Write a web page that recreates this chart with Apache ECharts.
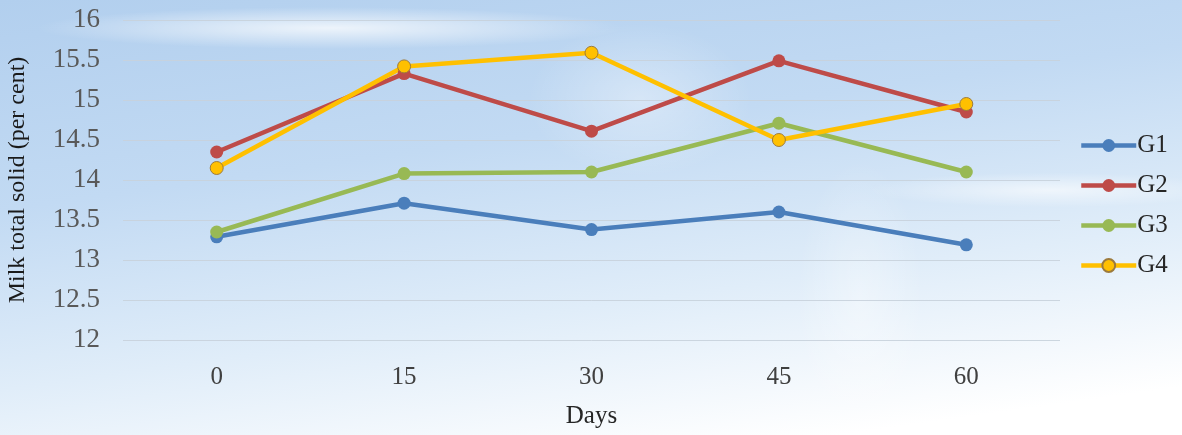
<!DOCTYPE html>
<html><head><meta charset="utf-8">
<script src="https://cdn.jsdelivr.net/npm/echarts@6/dist/echarts.min.js"></script>
<style>
html,body{margin:0;padding:0;}
#c{width:1182px;height:435px;
background:
 radial-gradient(ellipse 420px 30px at 330px 28px, rgba(255,255,255,0.75), rgba(255,255,255,0) 70%),
 radial-gradient(ellipse 260px 25px at 1050px 190px, rgba(255,255,255,0.6), rgba(255,255,255,0) 70%),
 radial-gradient(ellipse 160px 110px at 640px 100px, rgba(255,255,255,0.35), rgba(255,255,255,0) 70%),
 radial-gradient(ellipse 90px 200px at 860px 300px, rgba(255,255,255,0.35), rgba(255,255,255,0) 70%),
 linear-gradient(172deg, #b2cfee 0%, #c2daf3 35%, #e0edf9 65%, #ffffff 92%);}
</style></head>
<body><div id="c"></div>
<script>
var days = ['0','15','30','45','60'];
var g1 = [13.29, 13.71, 13.38, 13.6, 13.19];
var g2 = [14.35, 15.33, 14.61, 15.49, 14.85];
var g3 = [13.35, 14.08, 14.1, 14.71, 14.1];
var g4 = [14.15, 15.42, 15.59, 14.5, 14.95];
var names = ['G1','G2','G3','G4'];
var colors = ['#4a7ebb','#be4b48','#98b954','#ffc000'];

var chart = echarts.init(document.getElementById('c'), null, {renderer:'canvas'});
var font = 'Liberation Serif';
function mk(name, data, color, border){
  return {name:name, type:'line', data:data, symbol:'circle', symbolSize:13,
    lineStyle:{width:4.5,color:color}, itemStyle:{color:color, borderColor:border||color, borderWidth:border?1:0},
    emphasis:{disabled:true}, z: 2};
}
chart.setOption({
  backgroundColor:'transparent',
  animation:false,
  color: colors,
  grid:{left:123, right:122, top:20, bottom:95, containLabel:false, outerBoundsMode:'none'},
  legend:{orient:'vertical', left:1074, top:128, itemGap:15, itemWidth:55, itemHeight:16,
    lineStyle:{width:4.5},
    textStyle:{fontFamily:font, fontSize:25, color:'#262626', padding:[0,0,0,-4]},
    data:names},
  xAxis:{type:'category', data:days, boundaryGap:true,
    name:'Days', nameLocation:'middle', nameGap:64,
    nameTextStyle:{fontFamily:font, fontSize:25, color:'#262626'},
    axisLine:{show:false}, axisTick:{show:false},
    axisLabel:{fontFamily:font, fontSize:25, color:'#404040', margin:25}},
  yAxis:{type:'value', min:12, max:16, interval:0.5,
    name:'Milk total solid (per cent)', nameLocation:'middle', nameGap:93,
    nameTextStyle:{fontFamily:font, fontSize:24, color:'#1a1a1a'},
    axisLine:{show:false}, axisTick:{show:false},
    axisLabel:{fontFamily:font, fontSize:27, color:'#595959', margin:23},
    splitLine:{lineStyle:{color:'rgba(200,210,220,0.9)', width:1}}},
  series:[mk('G1',g1,colors[0]), mk('G2',g2,colors[1]), mk('G3',g3,colors[2]), mk('G4',g4,colors[3],'#9c7a3c')]
});
</script></body></html>
